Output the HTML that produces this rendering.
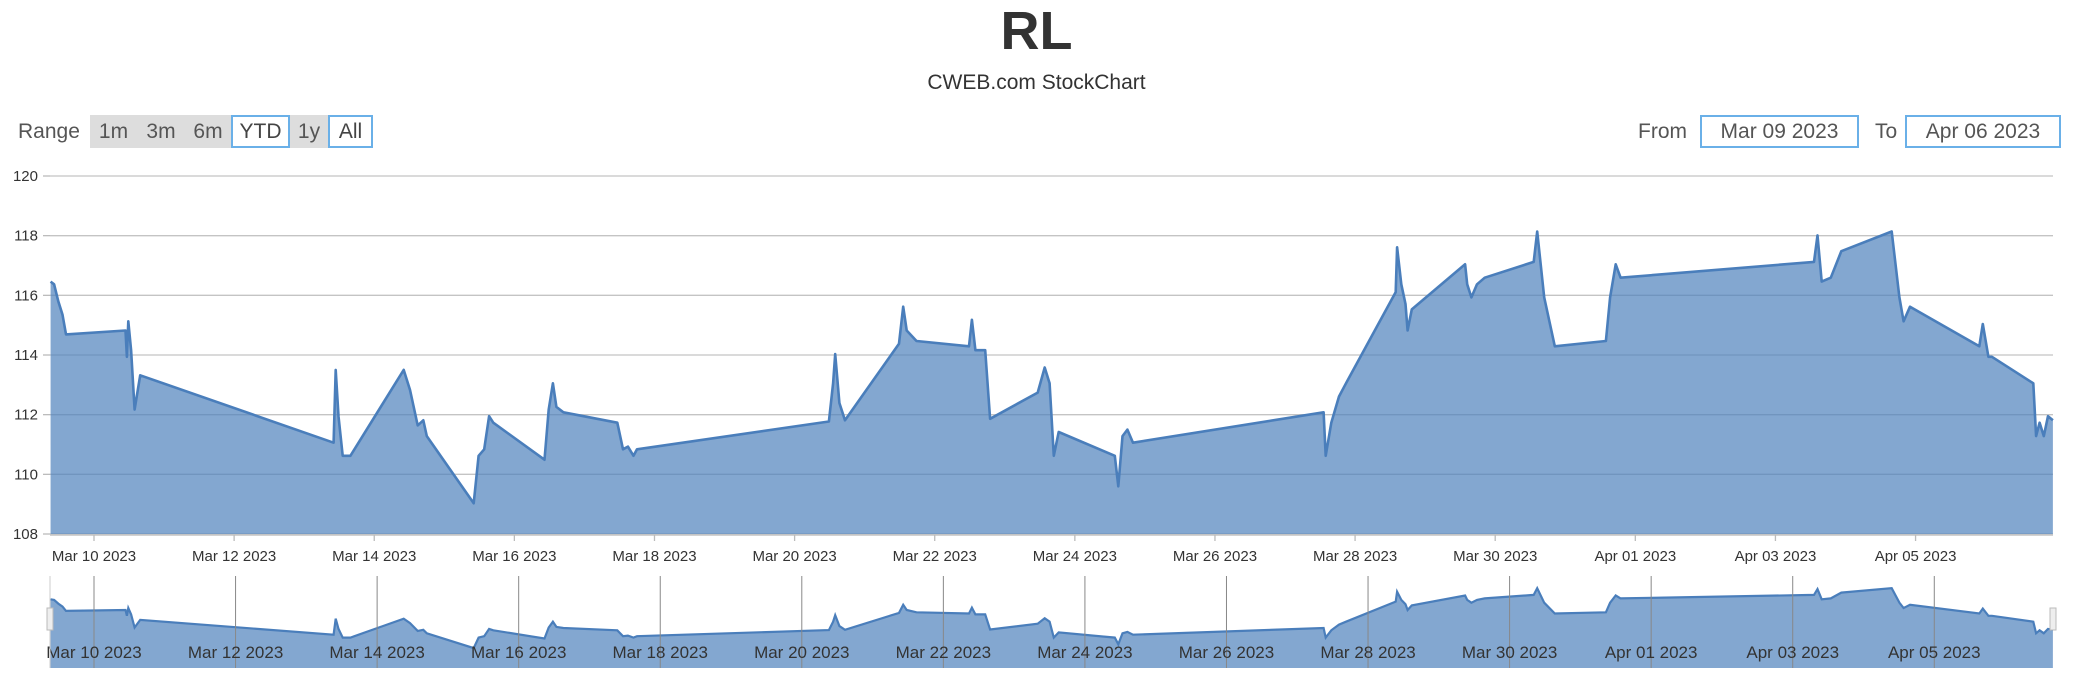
<!DOCTYPE html>
<html><head><meta charset="utf-8">
<style>
html,body{margin:0;padding:0;background:#fff;width:2073px;height:675px;overflow:hidden;font-family:"Liberation Sans","DejaVu Sans",sans-serif;}
#root{position:relative;width:2073px;height:675px;}
.title{position:absolute;left:0;width:2073px;text-align:center;top:0;font-size:54px;font-weight:bold;color:#333;line-height:62px;}
.sub{position:absolute;left:0;width:2073px;text-align:center;top:69px;font-size:21px;color:#333;line-height:28px;}
.lbl{position:absolute;top:115px;height:33px;line-height:33px;font-size:21px;color:#555;}
.btn{position:absolute;top:115px;height:33px;line-height:33px;font-size:21px;color:#555;background:#dddddd;text-align:center;box-sizing:border-box;}
.btn.sel{background:#fff;border:2px solid #6ab0e8;color:#444;line-height:29px;}
.inp{position:absolute;top:115px;height:33px;line-height:29px;font-size:21px;color:#555;border:2px solid #6ab0e8;box-sizing:border-box;text-align:center;background:#fff;}
svg{position:absolute;left:0;top:0;}
</style></head><body>
<div id="root">
<div class="title">RL</div>
<div class="sub">CWEB.com StockChart</div>
<div class="lbl" style="left:18px">Range</div>
<div class="btn" style="left:90px;width:47px">1m</div>
<div class="btn" style="left:137px;width:48px">3m</div>
<div class="btn" style="left:185px;width:46px">6m</div>
<div class="btn sel" style="left:231px;width:59px">YTD</div>
<div class="btn" style="left:290px;width:38px">1y</div>
<div class="btn sel" style="left:328px;width:45px">All</div>
<div class="lbl" style="left:1638px">From</div>
<div class="inp" style="left:1700px;width:159px">Mar 09 2023</div>
<div class="lbl" style="left:1875px">To</div>
<div class="inp" style="left:1905px;width:156px">Apr 06 2023</div>
<svg id="chart" width="2073" height="675"></svg>
</div>
<script>
// time in days since Mar 0 2023 (Mar 10 = 10, Apr 1 = 32)
const times = [9.38,9.43,9.49,9.55,9.60,10.45,10.47,10.49,10.53,10.58,10.66,13.42,13.45,13.49,13.55,13.66,14.42,14.51,14.62,14.70,14.75,15.42,15.49,15.57,15.64,15.70,16.43,16.49,16.55,16.60,16.70,17.47,17.55,17.62,17.70,17.75,20.49,20.55,20.58,20.64,20.72,21.49,21.55,21.60,21.74,22.49,22.53,22.58,22.72,22.79,23.47,23.57,23.64,23.70,23.77,24.57,24.62,24.68,24.75,24.83,27.55,27.58,27.66,27.77,27.87,28.58,28.60,28.66,28.72,28.75,28.81,29.57,29.60,29.66,29.74,29.85,30.55,30.60,30.70,30.85,31.58,31.64,31.72,31.79,34.55,34.60,34.66,34.79,34.94,35.66,35.77,35.83,35.92,36.91,36.96,37.04,37.09,37.68,37.72,37.77,37.83,37.89,37.96];
const prices = [116.46,116.37,115.80,115.35,114.69,114.82,113.94,115.13,114.16,112.17,113.32,111.06,113.50,111.95,110.62,110.62,113.50,112.83,111.64,111.81,111.28,109.03,110.62,110.84,111.95,111.73,110.49,112.17,113.05,112.26,112.08,111.73,110.84,110.93,110.62,110.84,111.77,113.05,114.03,112.39,111.81,114.38,115.62,114.82,114.47,114.29,115.18,114.16,114.16,111.86,112.74,113.58,113.05,110.62,111.42,110.62,109.60,111.28,111.50,111.06,112.08,110.62,111.73,112.61,113.05,116.11,117.61,116.37,115.71,114.82,115.53,117.04,116.37,115.93,116.37,116.59,117.12,118.14,115.93,114.29,114.47,115.93,117.04,116.59,117.12,118.01,116.46,116.59,117.48,118.14,115.93,115.13,115.62,114.29,115.04,113.94,113.94,113.05,111.28,111.73,111.28,111.95,111.81];
const yTicks = [108,110,112,114,116,118,120];
const xTickDays = [10,12,14,16,18,20,22,24,26,28,30,32,34,36];
const xTickLabels = ["Mar 10 2023","Mar 12 2023","Mar 14 2023","Mar 16 2023","Mar 18 2023","Mar 20 2023","Mar 22 2023","Mar 24 2023","Mar 26 2023","Mar 28 2023","Mar 30 2023","Apr 01 2023","Apr 03 2023","Apr 05 2023"];

const NS="http://www.w3.org/2000/svg";
const svg=document.getElementById('chart');
function mk(tag,attrs,parent){const e=document.createElementNS(NS,tag);for(const k in attrs)e.setAttribute(k,attrs[k]);(parent||svg).appendChild(e);return e;}
const L=50,R=2053,T=176,B=534;
const xMain=t=>94+(t-10)*70.06;
const yMain=v=>B-(v-108)*(B-T)/12;
const NT=576,NB=668;
const xNavGrid=t=>94+(t-10)*70.78;
const xNavData=t=>xMain(t);
const yNav=v=>NB-(v-106)*(NB-NT)/14;

// grid
yTicks.forEach(v=>{
  const g=mk('line',{x1:L,x2:R,y1:yMain(v),y2:yMain(v),stroke:'#c4c4c4','stroke-width':1.3});
  
  
  mk('line',{x1:L-7,x2:L,y1:yMain(v),y2:yMain(v),stroke:'#bbb','stroke-width':1.3});
  const t=mk('text',{x:L-12,y:yMain(v)+5,'text-anchor':'end','font-size':15,fill:'#333'});
  t.textContent=v;
  
  
});
// area main
let pts=times.map((t,i)=>xMain(t).toFixed(1)+','+yMain(prices[i]).toFixed(1));
const area=mk('path',{d:'M'+xMain(times[0])+','+B+' L'+pts.join(' L')+' L'+xMain(times[times.length-1])+','+B+' Z',fill:'#4f81bc','fill-opacity':0.7});


const line=mk('path',{d:'M'+pts.join(' L'),fill:'none',stroke:'#4a7ebb','stroke-width':2.6,'stroke-linejoin':'round'});


mk('line',{x1:L,x2:R,y1:B+1,y2:B+1,stroke:'#c4c4c4','stroke-width':1.5});
xTickDays.forEach((d,i)=>{
  const x=xMain(d);
  mk('line',{x1:x,x2:x,y1:B+1,y2:B+7,stroke:'#bbb','stroke-width':1.3});
  const t=mk('text',{x:x,y:B+27,'text-anchor':'middle','font-size':15,fill:'#333'});
  t.textContent=xTickLabels[i];
  
  
});
// navigator
const nav=mk('g',{});


let npts=times.map((t,i)=>xNavData(t).toFixed(1)+','+yNav(prices[i]).toFixed(1));
mk('path',{d:'M'+xNavData(times[0])+','+NB+' L'+npts.join(' L')+' L'+xNavData(times[times.length-1])+','+NB+' Z',fill:'#4f81bc','fill-opacity':0.7},nav);
mk('path',{d:'M'+npts.join(' L'),fill:'none',stroke:'#4a7ebb','stroke-width':2.2},nav);
xTickDays.forEach((d,i)=>{
  const x=xNavGrid(d);
  mk('line',{x1:x,x2:x,y1:NT,y2:NB,stroke:'#888','stroke-width':1},nav);
  const t=mk('text',{x:x,y:NB-10,'text-anchor':'middle','font-size':17,fill:'#333'},nav);
  t.textContent=xTickLabels[i];
  
  
});
mk('line',{x1:L,x2:L,y1:NT,y2:NB,stroke:'#ccc','stroke-width':1},nav);
const h1=mk('rect',{x:L-3,y:608,width:6,height:22,fill:'#eee',stroke:'#bbb'},nav);


const h2=mk('rect',{x:R-3,y:608,width:6,height:22,fill:'#eee',stroke:'#bbb'},nav);


</script>
</body></html>
